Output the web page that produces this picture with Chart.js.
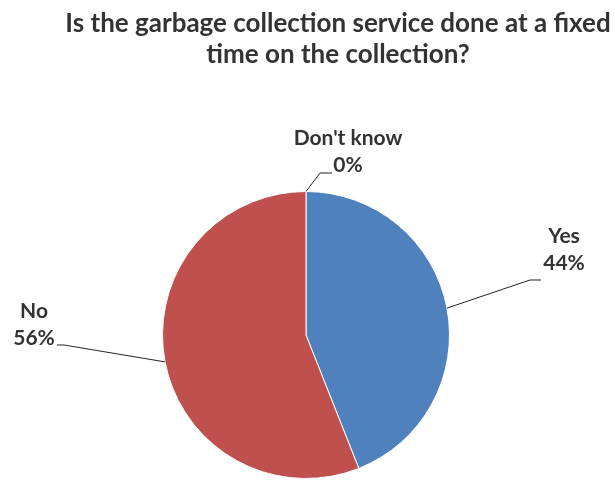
<!DOCTYPE html>
<html>
<head>
<meta charset="utf-8">
<script src="https://cdn.jsdelivr.net/npm/chart.js@4"></script>
<style>
  html, body { margin: 0; padding: 0; background: #fff; }
  #wrap { width: 615px; height: 485px; }
</style>
</head>
<body>
<div id="wrap"><canvas id="pieChart" width="615" height="485"></canvas></div>
<script>
const categories = ['Yes', 'No', "Don't know"];
const shares = [44, 56, 0];
const sliceColors = ['#4F81BD', '#C0504D', '#9BBB59'];
const titleLines = ['Is the garbage collection service done at a fixed', 'time on the collection?'];

// label placement per slice: text centre + elbow of the leader line
const labelLayout = [
    { x: 564, y: 236, elbow: [530, 280], end: [541, 280] },
    { x: 34, y: 311, elbow: [64, 345], end: [57, 345] },
    { x: 348, y: 138, elbow: [320, 173], end: [332, 173] }
];

const fontFamily = 'Lato, "Open Sans", sans-serif';

// title drawn by hand so the pie padding doesn't squeeze it
const chartTitle = {
    id: 'chartTitle',
    afterDraw(chart) {
        const ctx = chart.ctx;
        ctx.save();
        ctx.font = 'bold 26px ' + fontFamily;
        ctx.fillStyle = '#333';
        ctx.textAlign = 'center';
        ctx.textBaseline = 'alphabetic';
        titleLines.forEach((line, i) => {
            ctx.fillText(line, 338, 32 + i * 31, 548);
        });
        ctx.restore();
    }
};

const leaderLabels = {
    id: 'leaderLabels',
    afterDatasetsDraw(chart) {
        const ctx = chart.ctx;
        const meta = chart.getDatasetMeta(0);
        ctx.save();
        ctx.font = 'bold 21px ' + fontFamily;
        ctx.textAlign = 'center';
        ctx.textBaseline = 'middle';
        meta.data.forEach((arc, i) => {
            const mid = (arc.startAngle + arc.endAngle) / 2;
            const sx = arc.x + Math.cos(mid) * arc.outerRadius;
            const sy = arc.y + Math.sin(mid) * arc.outerRadius;
            const lay = labelLayout[i];
            ctx.strokeStyle = '#222';
            ctx.lineWidth = 1;
            ctx.beginPath();
            ctx.moveTo(sx, sy);
            ctx.lineTo(lay.elbow[0], lay.elbow[1]);
            ctx.lineTo(lay.end[0], lay.end[1]);
            ctx.stroke();
            ctx.fillStyle = '#333';
            ctx.fillText(categories[i], lay.x, lay.y);
            ctx.fillText(shares[i] + '%', lay.x, lay.y + 27);
        });
        ctx.restore();
    }
};

const ctx = document.getElementById('pieChart').getContext('2d');
new Chart(ctx, {
    type: 'pie',
    data: {
        labels: categories,
        datasets: [{
            data: shares,
            backgroundColor: sliceColors,
            borderColor: '#ffffff',
            borderWidth: 1
        }]
    },
    options: {
        responsive: false,
        animation: false,
        rotation: 0,
        layout: {
            padding: { left: 161, right: 164, top: 191, bottom: 6 }
        },
        plugins: {
            legend: { display: false },
            tooltip: { enabled: false },
            title: { display: false }
        }
    },
    plugins: [chartTitle, leaderLabels]
});
</script>
</body>
</html>
